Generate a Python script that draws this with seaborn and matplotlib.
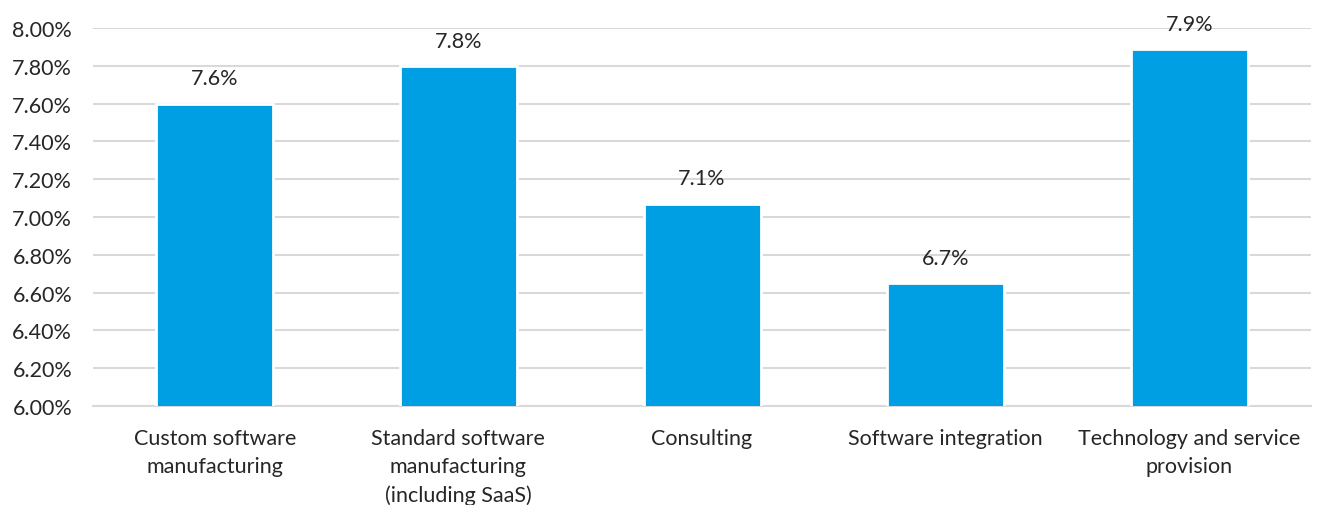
import matplotlib
matplotlib.use("Agg")
import pandas as pd
import seaborn as sns
import matplotlib.pyplot as plt
import matplotlib.ticker as ticker

# Data
categories = [
    "Custom software\nmanufacturing",
    "Standard software\nmanufacturing\n(including SaaS)",
    "Consulting",
    "Software integration",
    "Technology and service\nprovision",
]
values = [7.60, 7.80, 7.07, 6.65, 7.89]
value_labels = ["7.6%", "7.8%", "7.1%", "6.7%", "7.9%"]
y_ticks = [6.0, 6.2, 6.4, 6.6, 6.8, 7.0, 7.2, 7.4, 7.6, 7.8, 8.0]

df = pd.DataFrame({"category": categories, "value": values})

sns.set_style("white")
plt.rcParams["font.family"] = ["Lato", "DejaVu Sans"]
text_color = "#262626"
fs = 15.5

fig = plt.figure(figsize=(13.19, 5.06), dpi=100)
ax = fig.add_axes([0.0705, 0.1957, 0.9235, 0.747])

sns.barplot(data=df, x="category", y="value", color="#009FE3", saturation=1,
            width=0.48, edgecolor="white", linewidth=2, ax=ax, zorder=3)

ax.set_ylim(6.0, 8.0)
ax.set_xlim(-0.5, len(categories) - 0.5)
ax.set_yticks(y_ticks)
ax.yaxis.set_major_formatter(ticker.FuncFormatter(lambda v, p: f"{v:.2f}%"))
ax.grid(axis="y", color="#d9d9d9", linewidth=1.5, zorder=0)
ax.set_axisbelow(True)

for side in ["top", "right", "left"]:
    ax.spines[side].set_visible(False)
ax.spines["bottom"].set_color("#d9d9d9")
ax.spines["bottom"].set_linewidth(1.5)

ax.tick_params(axis="y", length=0, labelsize=fs, labelcolor=text_color, pad=15)
ax.tick_params(axis="x", which="major", length=0, labelsize=fs, labelcolor=text_color, pad=16)
ax.set_xticks([i - 0.5 for i in range(len(categories) + 1)], minor=True)
ax.tick_params(axis="x", which="minor", length=7, color="#d9d9d9", width=1.5)
for lbl in ax.get_xticklabels():
    lbl.set_linespacing(1.5)

for i, (v, lab) in enumerate(zip(values, value_labels)):
    ax.annotate(lab, (i, v), xytext=(0, 11), textcoords="offset points",
                ha="center", va="bottom", fontsize=fs, color=text_color)

ax.set_xlabel("")
ax.set_ylabel("")

fig.savefig("out.png", dpi=100)
